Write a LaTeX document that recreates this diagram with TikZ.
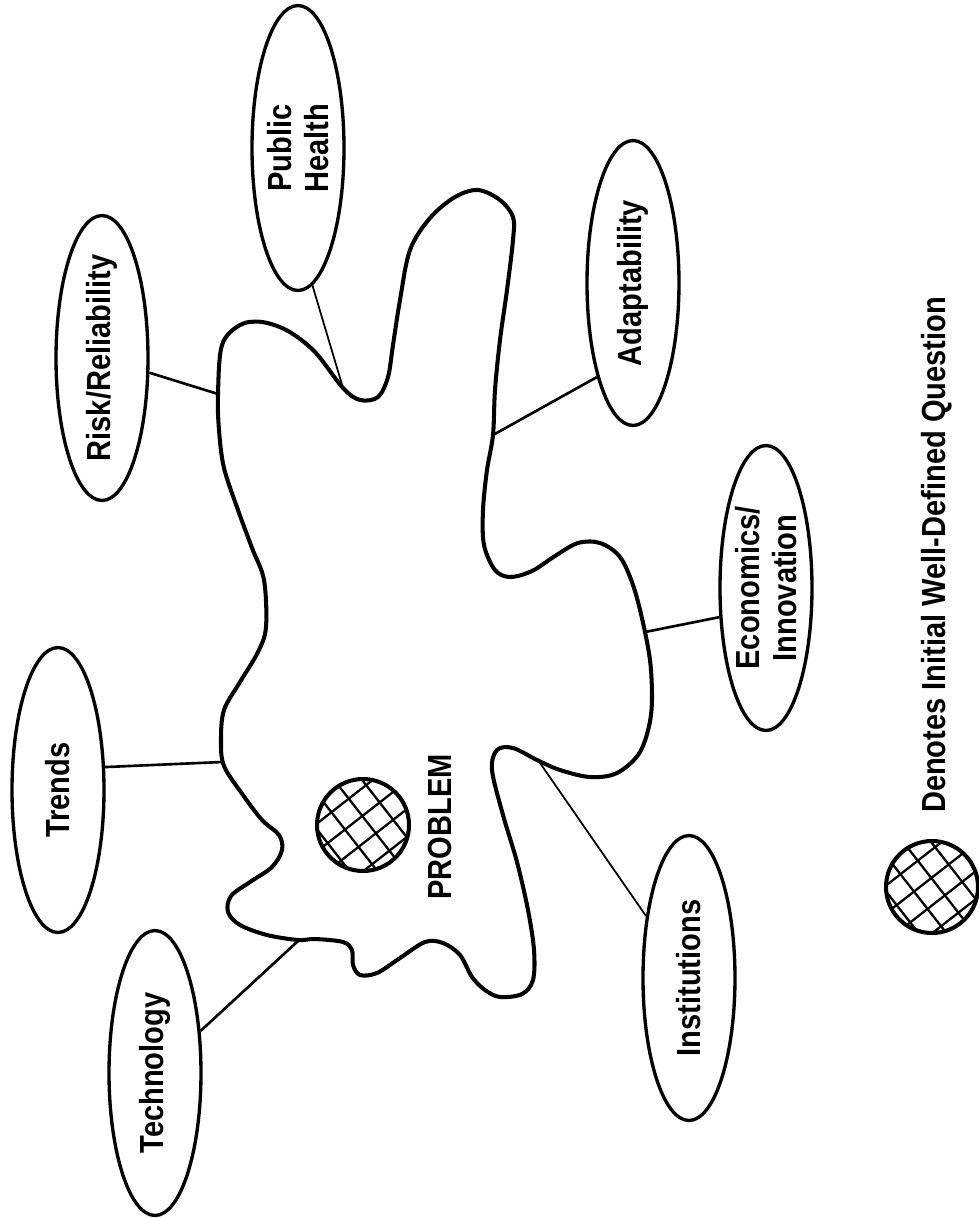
\documentclass[tikz,border=0pt]{standalone}
\usepackage{fontspec}
\setmainfont{Liberation Sans}[FakeStretch=0.87]
\usetikzlibrary{shapes.geometric,calc}
\tikzset{
  tema/.style={draw,ellipse,line width=1.9pt,rotate=90,minimum width=5.7cm,minimum height=1.84cm,
               inner xsep=-1cm,inner ysep=0pt,align=center,font=\bfseries\fontsize{19}{21}\selectfont},
  felirat/.style={rotate=90,inner sep=0pt,font=\bfseries\fontsize{19}{21}\selectfont},
  folt/.style={line width=2.3pt,line join=round},
  kapocs/.style={line width=1.5pt},
  vekony/.style={line width=1pt},
  golyo/.style={draw,circle,line width=2.3pt,minimum size=1.84cm,inner sep=0pt},
  racs/.style={line width=1.3pt},
}
\begin{document}
\begin{tikzpicture}[x=0.02cm,y=-0.02cm]
  \useasboundingbox (0,0) rectangle (979,1218);
  % problema folt
  \draw[folt] plot[smooth cycle,tension=0.55] coordinates {
    (219,430) (218,394) (222,345) (240,325) (262,322) (288,331) (315,352) (343,388)
    (360,400) (378,397) (388,377) (393,345) (400,300) (410,250) (430,218) (455,197)
    (478,190) (500,200) (513,217) (513,240) (507,290) (500,340) (495,390) (493,435)
    (487,470) (483,510) (484,545) (495,570) (510,577) (532,571) (555,556) (578,543)
    (600,543) (620,557) (634,588) (645,632) (651,670) (651,715) (640,752) (617,773)
    (590,777) (560,770) (537,760) (513,748) (497,750) (492,770) (503,815) (517,862)
    (528,910) (534,950) (533,980) (522,994) (500,997) (485,990) (472,977) (460,955)
    (443,943) (425,942) (400,958) (377,973) (360,975) (353,965) (352,950) (343,942)
    (315,939) (298,940) (267,935) (240,925) (228,912) (231,896) (250,882) (272,867)
    (282,850) (279,835) (262,820) (243,795) (224,766) (221,740) (224,710) (240,682)
    (258,652) (266,627) (264,580) (252,548) (238,510) (224,468)};
  \coordinate (riskpont) at (218,394);
  \coordinate (egpont) at (343,388);
  \coordinate (alkpont) at (493,435);
  \coordinate (gazdpont) at (645,632);
  \coordinate (intpont) at (540,763);
  \coordinate (techpont) at (298,941);
  \coordinate (trendpont) at (222,762);
  % temak
  \node[tema] (risk) at (102,358) {Risk/Reliability};
  \node[tema] (egeszseg) at (298,148) {Public\\Health};
  \node[tema] (alkalm) at (633,283) {Adaptability};
  \node[tema] (gazd) at (766,588) {Economics/\\Innovation};
  \node[tema] (trend) at (58,790) {Trends};
  \node[tema] (tech) at (155,1073) {Technology};
  \node[tema] (intez) at (689,978) {Institutions};
  \draw[kapocs] (risk) -- (riskpont);
  \draw[vekony] (egeszseg.-174) -- (egpont);
  \draw[kapocs] (alkalm.159) -- (alkpont);
  \draw[kapocs] (gazd.122) -- (gazdpont);
  \draw[vekony] (intez) -- (intpont);
  \draw[kapocs] (tech) -- (techpont);
  \draw[kapocs] (trend.-64) -- (trendpont);
  % kerdes + jelmagyarazat
  \node[golyo] (kerdes) at (363,825) {};
  \node[felirat] (problema) at (440,827) {PROBLEM};
  \node[golyo] (jel) at (932,887) {};
  \node[felirat] (jelszoveg) at (937,555) {Denotes Initial Well-Defined Question};
  \foreach \k in {kerdes,jel} {
    \begin{scope}[shift={(\k.center)},rotate=38]
      \clip (0,0) circle (0.9cm);
      \foreach \i in {-2,...,2} {
        \draw[racs] (\i*0.44cm+0.1cm,-1cm) -- (\i*0.44cm+0.1cm,1cm);
        \draw[racs] (-1cm,\i*0.44cm+0.15cm) -- (1cm,\i*0.44cm+0.15cm);
      }
    \end{scope}
  }
\end{tikzpicture}
\end{document}
